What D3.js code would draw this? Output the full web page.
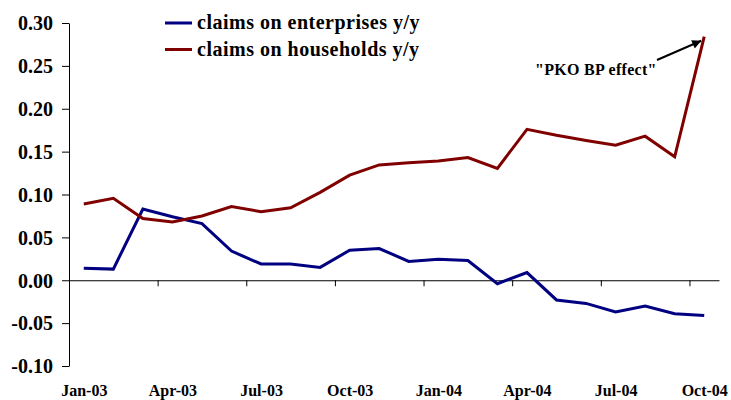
<!DOCTYPE html>
<html>
<head>
<meta charset="utf-8">
<script src="https://cdn.jsdelivr.net/npm/d3@7/dist/d3.min.js"></script>
<style>
  body { margin: 0; background: #fff; }
  svg text { font-family: "Liberation Serif", "Times New Roman", serif; font-weight: bold; fill: #000; }
</style>
</head>
<body>
<script>
// monthly series, Jan-03 .. Oct-04
var months = ["Jan-03","Feb-03","Mar-03","Apr-03","May-03","Jun-03","Jul-03","Aug-03","Sep-03","Oct-03","Nov-03","Dec-03",
              "Jan-04","Feb-04","Mar-04","Apr-04","May-04","Jun-04","Jul-04","Aug-04","Sep-04","Oct-04"];
var enterprises = [0.014, 0.013, 0.083, 0.074, 0.066, 0.034, 0.019, 0.019, 0.015, 0.035, 0.037, 0.022,
                   0.0245, 0.023, -0.004, 0.009, -0.023, -0.027, -0.037, -0.030, -0.039, -0.041];
var households = [0.089, 0.0955, 0.072, 0.068, 0.075, 0.086, 0.080, 0.0845, 0.1025, 0.1225, 0.1345, 0.137,
                  0.139, 0.143, 0.1305, 0.176, 0.169, 0.163, 0.1575, 0.168, 0.144, 0.284];
var seriesNames = ["claims on enterprises y/y", "claims on households y/y"];
var seriesColors = ["#000080", "#800000"];
var yTicks = [-0.10, -0.05, 0.00, 0.05, 0.10, 0.15, 0.20, 0.25, 0.30];
var xLabelIdx = [0, 3, 6, 9, 12, 15, 18, 21];
var annotation = "\"PKO BP effect\"";

var W = 731, H = 400;
var plotLeft = 69, plotRight = 719, plotTop = 23, plotBottom = 366;

var svg = d3.select("body").append("svg")
  .attr("width", W)
  .attr("height", H);

var x = d3.scaleLinear().domain([0, months.length]).range([plotLeft, plotRight]);
var y = d3.scaleLinear().domain([-0.10, 0.30]).range([plotBottom, plotTop]);

// y axis
var yAxis = svg.append("g")
  .attr("transform", `translate(${plotLeft},0)`)
  .call(d3.axisLeft(y)
    .tickValues(yTicks)
    .tickSize(7)
    .tickSizeOuter(0)
    .tickPadding(9)
    .tickFormat(d => d.toFixed(2)));
yAxis.selectAll("text").style("font-size", "20px").attr("dy", "0.34em");

// x axis on zero line, ticks at category boundaries
svg.append("g")
  .attr("transform", `translate(0,${y(0)})`)
  .call(d3.axisBottom(x)
    .tickValues(xLabelIdx.slice(1))
    .tickSize(6)
    .tickSizeOuter(0)
    .tickFormat(""));

svg.selectAll(".domain, .tick line").attr("stroke", "#000").attr("stroke-width", 1);

// category labels at the bottom
var xLab = svg.append("g")
  .attr("transform", `translate(0,${plotBottom + 16})`)
  .call(d3.axisBottom(x)
    .tickValues(xLabelIdx.map(i => i + 0.5))
    .tickSize(0)
    .tickFormat(d => months[Math.floor(d)]));
xLab.select(".domain").remove();
xLab.selectAll("text").style("font-size", "16px");

// lines
var line = d3.line()
  .x((d, i) => x(i + 0.5))
  .y(d => y(d));

[enterprises, households].forEach(function(s, k) {
  svg.append("path")
    .datum(s)
    .attr("fill", "none")
    .attr("stroke", seriesColors[k])
    .attr("stroke-width", 3)
    .attr("stroke-linejoin", "miter")
    .attr("d", line);
});

// legend
var legend = svg.append("g").attr("transform", "translate(165,23)");
seriesNames.forEach(function(name, k) {
  var g = legend.append("g").attr("transform", `translate(0,${k * 26.5})`);
  g.append("line")
    .attr("x1", 0).attr("x2", 27)
    .attr("stroke", seriesColors[k])
    .attr("stroke-width", 3);
  g.append("text")
    .attr("x", 32)
    .attr("y", 6)
    .style("font-size", "20px")
    .style("letter-spacing", "0.5px")
    .text(name);
});

// annotation arrow
svg.append("defs").append("marker")
  .attr("id", "arrow")
  .attr("viewBox", "0 0 10 10")
  .attr("refX", 10).attr("refY", 5)
  .attr("markerWidth", 12).attr("markerHeight", 9)
  .attr("markerUnits", "userSpaceOnUse")
  .attr("orient", "auto")
  .append("path")
  .attr("d", "M0,0 L10,5 L0,10 z")
  .attr("fill", "#000");

var last = months.length - 1;
svg.append("line")
  .attr("x1", 657).attr("y1", 60)
  .attr("x2", x(last + 0.5) - 3).attr("y2", y(households[last]) + 4)
  .attr("stroke", "#000")
  .attr("stroke-width", 2)
  .attr("marker-end", "url(#arrow)");

svg.append("text")
  .attr("x", 535)
  .attr("y", 75)
  .style("font-size", "16px")
  .style("letter-spacing", "0.3px")
  .text(annotation);
</script>
</body>
</html>
